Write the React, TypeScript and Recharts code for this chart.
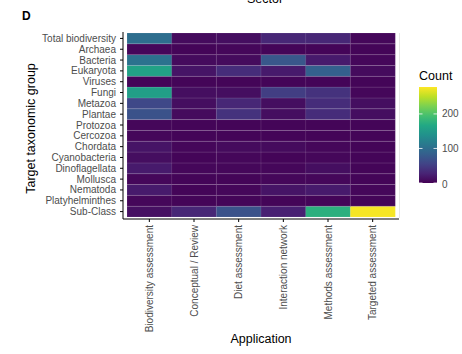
import React from "react";
import { BarChart, Bar, XAxis, YAxis, Cell } from "recharts";

const applications = [
  "Biodiversity assessment",
  "Conceptual / Review",
  "Diet assessment",
  "Interaction network",
  "Methods assessment",
  "Targeted assessment",
];

// top to bottom, as in the figure
const taxa = [
  "Total biodiversity",
  "Archaea",
  "Bacteria",
  "Eukaryota",
  "Viruses",
  "Fungi",
  "Metazoa",
  "Plantae",
  "Protozoa",
  "Cercozoa",
  "Chordata",
  "Cyanobacteria",
  "Dinoflagellata",
  "Mollusca",
  "Nematoda",
  "Platyhelminthes",
  "Sub-Class",
];

// counts per application, same order as taxa
const biodiversityCounts = [100, 5, 105, 160, 3, 155, 60, 70, 5, 5, 15, 10, 20, 5, 20, 5, 12];
const conceptualCounts = [8, 3, 8, 15, 3, 10, 10, 8, 3, 3, 5, 3, 5, 3, 3, 3, 30];
const dietCounts = [10, 5, 8, 35, 3, 10, 30, 40, 3, 3, 8, 5, 5, 3, 5, 3, 70];
const interactionCounts = [30, 3, 75, 20, 3, 50, 10, 10, 3, 3, 8, 3, 5, 5, 15, 3, 25];
const methodsCounts = [30, 3, 20, 85, 3, 40, 35, 35, 3, 3, 5, 5, 10, 5, 20, 3, 175];
const targetedCounts = [5, 3, 5, 8, 3, 5, 10, 10, 3, 3, 3, 3, 3, 3, 5, 3, 275];

const legendTicks = [0, 100, 200];
const COUNT_MAX = 278;

const allCounts = [
  biodiversityCounts,
  conceptualCounts,
  dietCounts,
  interactionCounts,
  methodsCounts,
  targetedCounts,
];

const viridisStops = [
  "#440154", "#482475", "#414487", "#355f8d", "#2a788e", "#21918c",
  "#22a884", "#44bf70", "#7ad151", "#bddf26", "#fde725",
];

const hexToRgb = (h) => [1, 3, 5].map((i) => parseInt(h.slice(i, i + 2), 16));

const viridis = (v) => {
  const t = Math.max(0, Math.min(1, v / COUNT_MAX)) * (viridisStops.length - 1);
  const i = Math.min(Math.floor(t), viridisStops.length - 2);
  const f = t - i;
  const a = hexToRgb(viridisStops[i]);
  const b = hexToRgb(viridisStops[i + 1]);
  const c = a.map((x, k) => Math.round(x + (b[k] - x) * f));
  return `rgb(${c[0]},${c[1]},${c[2]})`;
};

const n = taxa.length;
const data = applications.map((app) => {
  const row = { app };
  taxa.forEach((_, j) => (row["t" + j] = 1));
  return row;
});
const yTicks = taxa.map((_, j) => j + 0.5);

const FONT = "'Liberation Sans', Arial, sans-serif";

const XTick = ({ x, y, payload }) => (
  <text
    x={x}
    y={y}
    transform={`rotate(-90 ${x} ${y})`}
    textAnchor="end"
    dominantBaseline="central"
    fontSize={10}
    fontFamily={FONT}
    fill="#4d4d4d"
  >
    {payload.value}
  </text>
);

const YTick = ({ x, y, payload }) => (
  <text
    x={x}
    y={y}
    textAnchor="end"
    dominantBaseline="central"
    fontSize={10}
    fontFamily={FONT}
    fill="#4d4d4d"
  >
    {taxa[Math.round(n - 0.5 - payload.value)]}
  </text>
);

const App = () => {
  const barTop = 87;
  const barBottom = 183;
  const valToY = (v) => barBottom - (v / COUNT_MAX) * (barBottom - barTop);

  return (
    <div style={{ position: "relative", width: 462, height: 354, background: "#fff" }}>
      <style>{"body{margin:0}"}</style>
      <BarChart
        width={462}
        height={354}
        data={data}
        margin={{ top: 32, right: 63, bottom: 25, left: 10 }}
        barCategoryGap={0}
        barGap={0}
      >
        <XAxis
          dataKey="app"
          type="category"
          height={110}
          padding={{ left: 4, right: 4 }}
          tickSize={3}
          tickMargin={3}
          interval={0}
          tick={<XTick />}
          axisLine={{ stroke: "#000", strokeWidth: 1 }}
          tickLine={{ stroke: "#000" }}
        />
        <YAxis
          type="number"
          domain={[0, n]}
          ticks={yTicks}
          interval={0}
          width={113}
          padding={{ top: 1, bottom: 2 }}
          tickSize={3}
          tickMargin={4}
          tick={<YTick />}
          axisLine={{ stroke: "#000", strokeWidth: 1 }}
          tickLine={{ stroke: "#000" }}
          allowDataOverflow
        />
        {taxa
          .map((_, j) => n - 1 - j)
          .map((j) => (
            <Bar
              key={j}
              dataKey={"t" + j}
              stackId="a"
              isAnimationActive={false}
              stroke="rgba(255,255,255,0.18)"
              strokeWidth={0.6}
            >
              {applications.map((_, i) => (
                <Cell key={i} fill={viridis(allCounts[i][j])} />
              ))}
            </Bar>
          ))}
      </BarChart>
      <svg
        width={462}
        height={354}
        style={{ position: "absolute", left: 0, top: 0, pointerEvents: "none" }}
        fontFamily={FONT}
      >
        <defs>
          <linearGradient id="viridisBar" x1="0" y1="1" x2="0" y2="0">
            {viridisStops.map((c, i) => (
              <stop key={i} offset={i / (viridisStops.length - 1)} stopColor={c} />
            ))}
          </linearGradient>
        </defs>
        <text x={265} y={3} textAnchor="middle" fontSize={12.5} fill="#000">
          Sector
        </text>
        <text x={22} y={20} fontSize={12} fontWeight="bold" fill="#000">
          D
        </text>
        <line x1={399.5} y1={33} x2={399.5} y2={218} stroke="#e6e6e6" strokeWidth={1} />
        <text
          x={30.5}
          y={128.5}
          transform="rotate(-90 30.5 128.5)"
          textAnchor="middle"
          dominantBaseline="central"
          fontSize={12.5}
          fill="#000"
        >
          Target taxonomic group
        </text>
        <text x={261} y={343} textAnchor="middle" fontSize={12.5} fill="#000">
          Application
        </text>
        <text x={419} y={80} fontSize={12.5} fill="#000">
          Count
        </text>
        <rect x={419} y={barTop} width={18} height={barBottom - barTop} fill="url(#viridisBar)" />
        {legendTicks.map((v) => (
          <g key={v}>
            <line x1={419} x2={422.5} y1={valToY(v)} y2={valToY(v)} stroke="#fff" strokeWidth={0.8} />
            <line x1={433.5} x2={437} y1={valToY(v)} y2={valToY(v)} stroke="#fff" strokeWidth={0.8} />
            <text
              x={442}
              y={valToY(v) + (v === 0 ? 1 : 0)}
              dominantBaseline="central"
              fontSize={10}
              fill="#4d4d4d"
            >
              {v}
            </text>
          </g>
        ))}
      </svg>
    </div>
  );
};

export default App;
